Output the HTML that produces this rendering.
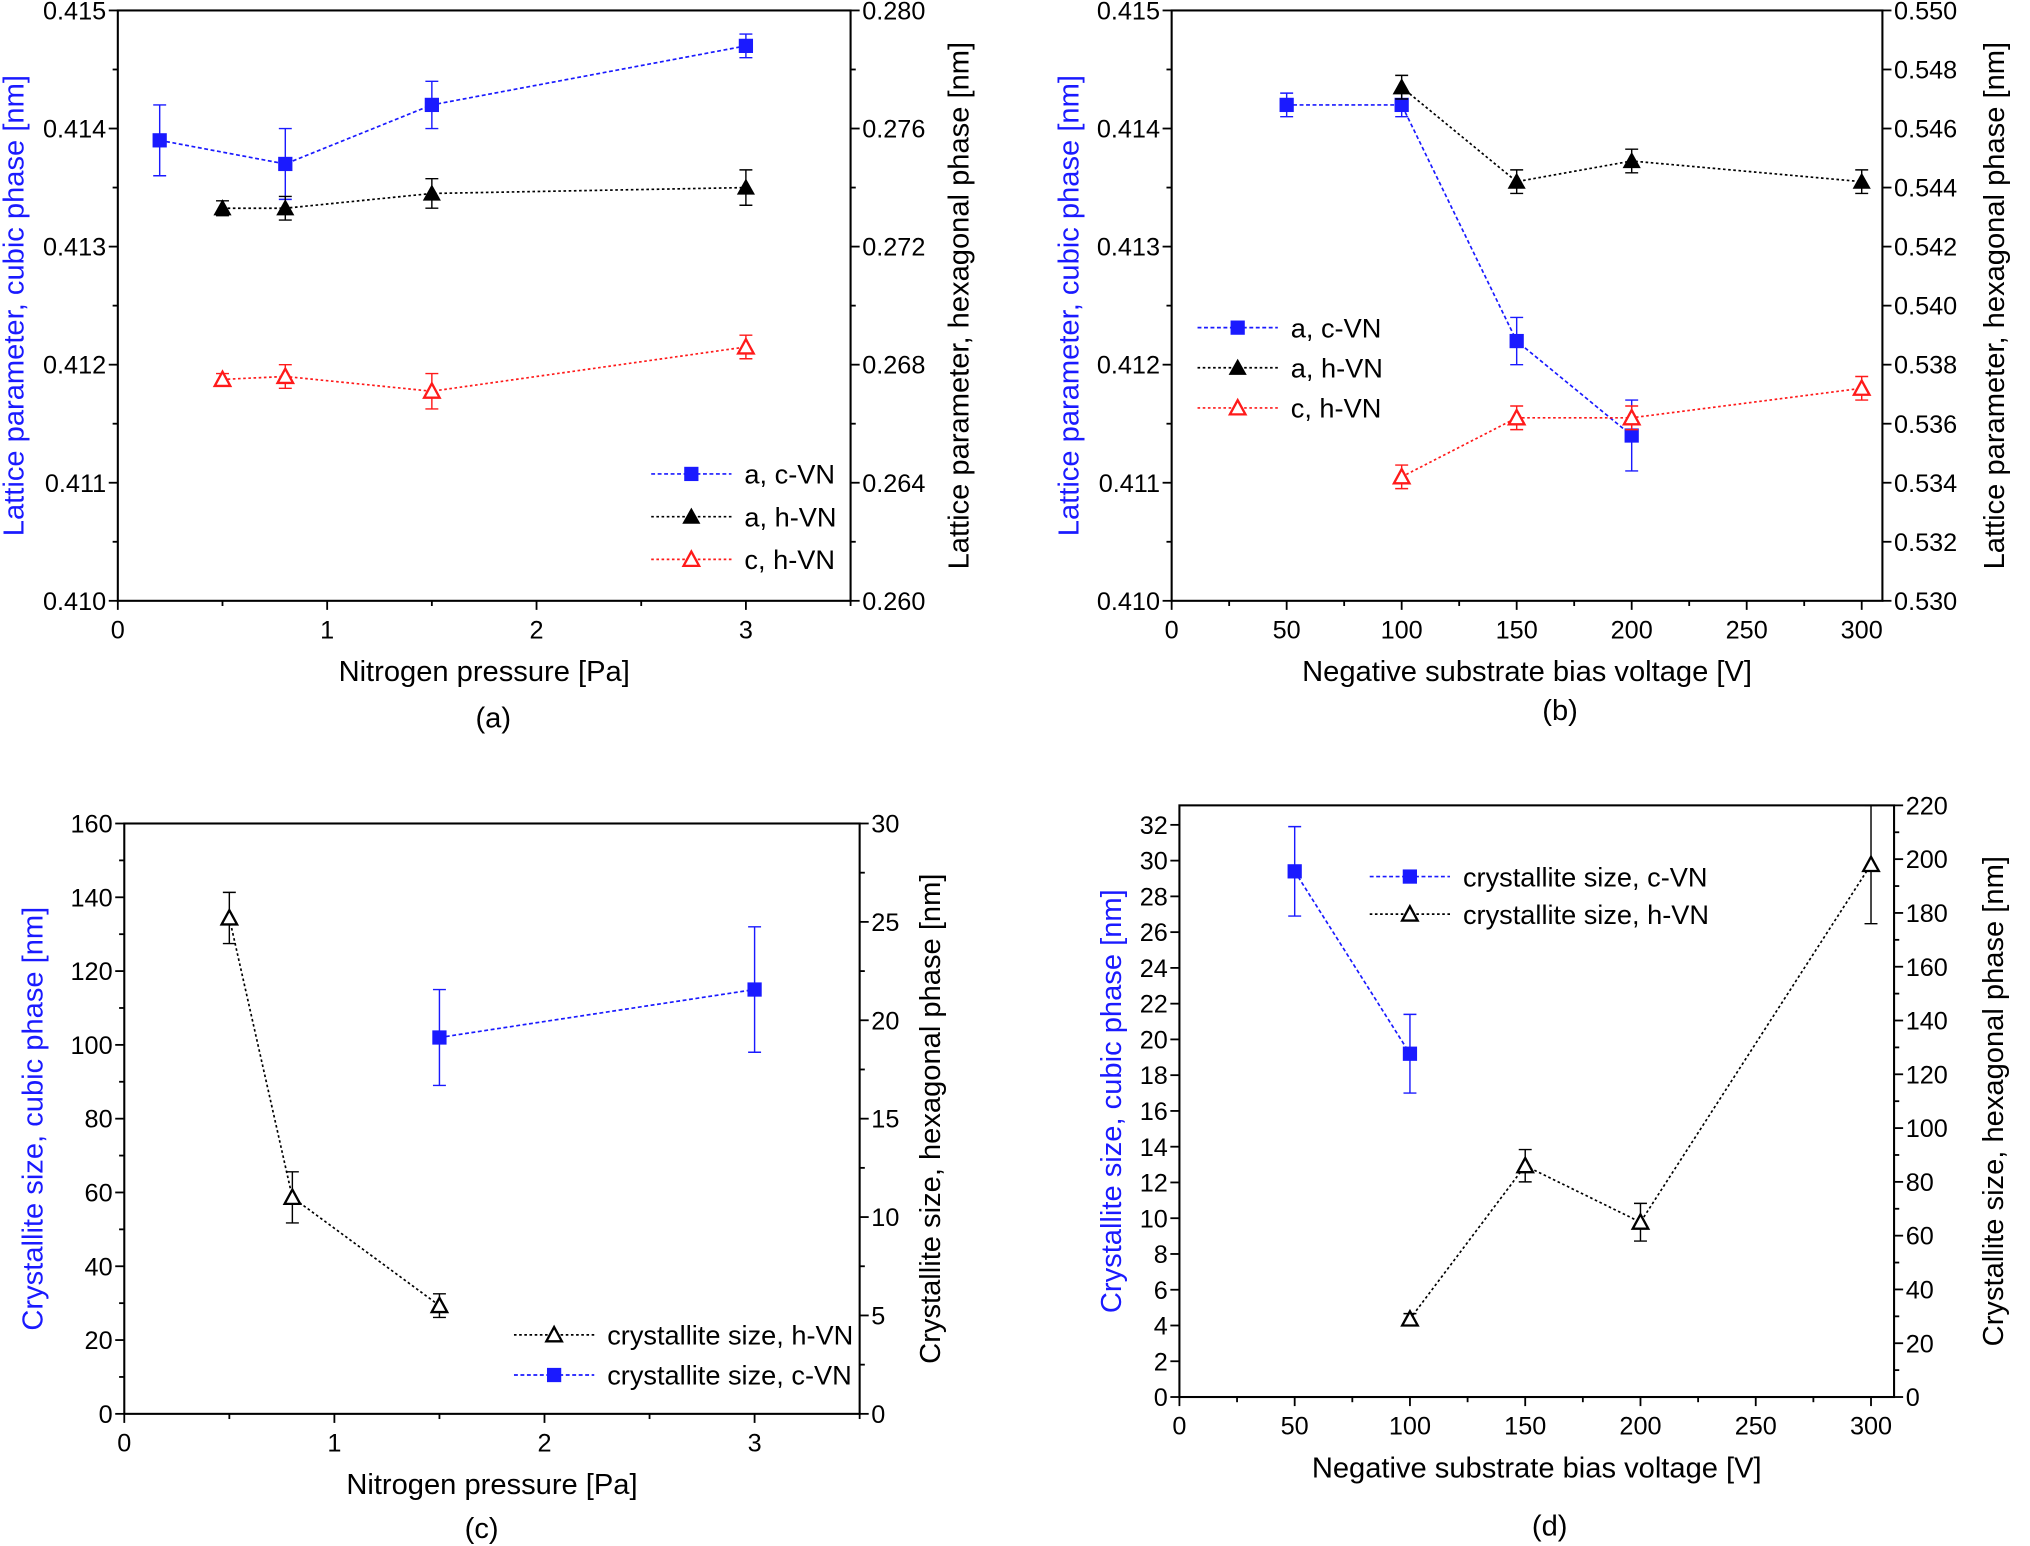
<!DOCTYPE html>
<html><head><meta charset="utf-8">
<style>
html,body{margin:0;padding:0;background:#fff;}
svg{display:block;font-family:"Liberation Sans",Arial,sans-serif;}
</style></head>
<body>
<svg id="fig" width="2030" height="1546" viewBox="0 0 1568 1194" xmlns="http://www.w3.org/2000/svg"></svg>
<script>
// ---- Panel (a) data ----
const aX_cVN = [0.2, 0.8, 1.5, 3];
const aY_cVN = [0.4139, 0.4137, 0.4142, 0.4147];
const aE_cVN = [0.0003, 0.0003, 0.0002, 0.0001];
const aX_ahVN = [0.5, 0.8, 1.5, 3];
const aY_ahVN = [0.2733, 0.2733, 0.2738, 0.2740];
const aE_ahVN = [0.00025, 0.0004, 0.0005, 0.0006];
const aX_chVN = [0.5, 0.8, 1.5, 3];
const aY_chVN = [0.2675, 0.2676, 0.2671, 0.2686];
const aE_chVN = [0.0002, 0.0004, 0.0006, 0.0004];
// ---- Panel (b) data ----
const bX_cVN = [50, 100, 150, 200];
const bY_cVN = [0.4142, 0.4142, 0.4122, 0.4114];
const bE_cVN = [0.0001, 0.0001, 0.0002, 0.0003];
const bX_ahVN = [100, 150, 200, 300];
const bY_ahVN = [0.5474, 0.5442, 0.5449, 0.5442];
const bE_ahVN = [0.0004, 0.0004, 0.0004, 0.0004];
const bX_chVN = [100, 150, 200, 300];
const bY_chVN = [0.5342, 0.5362, 0.5362, 0.5372];
const bE_chVN = [0.0004, 0.0004, 0.0004, 0.0004];
// ---- Panel (c) data ----
const cX_hVN = [0.5, 0.8, 1.5];
const cY_hVN = [25.2, 11.0, 5.5];
const cE_hVN = [1.3, 1.3, 0.6];
const cX_cVN = [1.5, 3];
const cY_cVN = [102, 115];
const cE_cVN = [13, 17];
// ---- Panel (d) data ----
const dX_cVN = [50, 100];
const dY_cVN = [29.4, 19.2];
const dE_cVN = [2.5, 2.2];
const dX_hVN = [100, 150, 200, 300];
const dY_hVN = [29, 86, 65, 198];
const dE_hVN = [2, 6, 7, 22];
// ---- ticks ----
const aXTicks = [0, 1, 2, 3];
const aLTicks = ["0.410","0.411","0.412","0.413","0.414","0.415"];
const aRTicks = ["0.260","0.264","0.268","0.272","0.276","0.280"];
const bXTicks = [0, 50, 100, 150, 200, 250, 300];
const bLTicks = ["0.410","0.411","0.412","0.413","0.414","0.415"];
const bRTicks = ["0.530","0.532","0.534","0.536","0.538","0.540","0.542","0.544","0.546","0.548","0.550"];
const cXTicks = [0, 1, 2, 3];
const cLTicks = ["0","20","40","60","80","100","120","140","160"];
const cRTicks = ["0","5","10","15","20","25","30"];
const dXTicks = [0, 50, 100, 150, 200, 250, 300];
const dLTicks = ["0","2","4","6","8","10","12","14","16","18","20","22","24","26","28","30","32"];
const dRTicks = ["0","20","40","60","80","100","120","140","160","180","200","220"];

const NS = "http://www.w3.org/2000/svg";
const svg = document.getElementById("fig");
const TF = 19.5, TT = 22.5, LF = 21;
function mk(tag, attrs, parent, text){
  const e = document.createElementNS(NS, tag);
  for (const k in attrs) e.setAttribute(k, attrs[k]);
  if (text !== undefined) e.textContent = text;
  (parent || svg).appendChild(e);
  return e;
}
const BLUE = "#1a1aff", RED = "#ff1a1a";

function panel(p){
  const g = mk("g", {});
  
  
  const sx = v => p.x0 + (v - p.xmin) / (p.xmax - p.xmin) * (p.x1 - p.x0);
  const syL = v => p.y1 - (v - p.lmin) / (p.lmax - p.lmin) * (p.y1 - p.y0);
  const syR = v => p.y1 - (v - p.rmin) / (p.rmax - p.rmin) * (p.y1 - p.y0);
  const box = mk("rect", {x:p.x0, y:p.y0, width:p.x1-p.x0, height:p.y1-p.y0, fill:"none", stroke:"#000", "stroke-width":1.6}, g);
  
  
  const xt = mk("g", {}, g);
  
  
  const xstep = p.xticks[1] - p.xticks[0];
  for (let v = p.xmin; v <= p.xmax + 1e-9; v += xstep/2){
    const X = sx(v);
    const major = p.xticks.some(t => Math.abs(t - v) < 1e-9);
    mk("line", {x1:X, x2:X, y1:p.y1, y2:p.y1 + (major?7:4), stroke:"#000", "stroke-width":1.4}, xt);
  }
  p.xticks.forEach(t => {
    const tl = mk("text", {x:sx(t), y:p.y1 + 29, "font-size":TF, "text-anchor":"middle"}, xt, String(t));
    
    
  });
  const lt = mk("g", {}, g);
  
  
  const ln = p.lticks.length;
  for (let i = 0; i < ln; i++){
    const v = parseFloat(p.lticks[i]);
    const Y = syL(v);
    mk("line", {x1:p.x0-7, x2:p.x0, y1:Y, y2:Y, stroke:"#000", "stroke-width":1.4}, lt);
    const tl = mk("text", {x:p.x0-9, y:Y+7, "font-size":TF, "text-anchor":"end"}, lt, p.lticks[i]);
    
    
    if (i < ln - 1 && p.lminor){
      const Ym = syL((v + parseFloat(p.lticks[i+1]))/2);
      mk("line", {x1:p.x0-4, x2:p.x0, y1:Ym, y2:Ym, stroke:"#000", "stroke-width":1.4}, lt);
    }
  }
  const rt = mk("g", {}, g);
  
  
  const rn = p.rticks.length;
  for (let i = 0; i < rn; i++){
    const v = parseFloat(p.rticks[i]);
    const Y = syR(v);
    mk("line", {x1:p.x1, x2:p.x1+7, y1:Y, y2:Y, stroke:"#000", "stroke-width":1.4}, rt);
    const tl = mk("text", {x:p.x1+9, y:Y+7, "font-size":TF, "text-anchor":"start"}, rt, p.rticks[i]);
    
    
    if (i < rn - 1 && p.rminor){
      const Ym = syR((v + parseFloat(p.rticks[i+1]))/2);
      mk("line", {x1:p.x1, x2:p.x1+4, y1:Ym, y2:Ym, stroke:"#000", "stroke-width":1.4}, rt);
    }
  }
  const xtit = mk("text", {x:(p.x0+p.x1)/2, y:p.y1+62, "font-size":TT, "text-anchor":"middle"}, g, p.xtitle);
  
  
  const lx = p.ltx, cy = (p.y0+p.y1)/2;
  const ltit = mk("text", {x:lx, y:cy, "font-size":TT, "text-anchor":"middle", fill:BLUE, transform:`rotate(-90 ${lx} ${cy})`}, g, p.ltitle);
  
  
  const rx = p.rtx;
  const rtit = mk("text", {x:rx, y:cy, "font-size":TT, "text-anchor":"middle", transform:`rotate(-90 ${rx} ${cy})`}, g, p.rtitle);
  
  
  const cap = mk("text", {x:p.capx, y:p.capy, "font-size":TT, "text-anchor":"middle"}, g, p.cap);
  
  
  p.series.forEach(s => {
    const sg = mk("g", {}, g);
    
    
    const sy = s.axis === "L" ? syL : syR;
    const pts = s.x.map((xv, i) => [sx(xv), sy(s.y[i])]);
    mk("polyline", {points: pts.map(q => q.join(",")).join(" "), fill:"none", stroke:s.color, "stroke-width":1.3, "stroke-dasharray":s.dash}, sg);
    s.x.forEach((xv, i) => {
      const X = sx(xv), Yt = sy(s.y[i] + s.e[i]), Yb = sy(s.y[i] - s.e[i]);
      const eb = mk("path", {d:`M${X},${Yt}V${Yb}M${X-5},${Yt}H${X+5}M${X-5},${Yb}H${X+5}`, stroke:s.color, "stroke-width":1.1, fill:"none"}, sg);
      
      
      const m = marker(s.marker, X, sy(s.y[i]), s.color, sg);
      
      
    });
  });
  const lg = mk("g", {}, g);
  
  
  p.legend.forEach((L, i) => {
    const s = p.series[L.idx];
    const Y = p.legY + i * p.legDy;
    const eg = mk("g", {}, lg);
    
    
    mk("line", {x1:p.legX, x2:p.legX+62, y1:Y, y2:Y, stroke:s.color, "stroke-width":1.3, "stroke-dasharray":s.dash}, eg);
    marker(s.marker, p.legX+31, Y, s.color, eg);
    mk("text", {x:p.legX+72, y:Y+7.5, "font-size":LF}, eg, L.label);
  });
}
function marker(type, X, Y, c, parent){
  if (type === "sq") return mk("rect", {x:X-5.5, y:Y-5.5, width:11, height:11, fill:c}, parent);
  if (type === "tri") return mk("path", {d:`M${X},${Y-7}L${X+7},${Y+5.5}L${X-7},${Y+5.5}Z`, fill:c}, parent);
  return mk("path", {d:`M${X},${Y-6}L${X+6},${Y+5}L${X-6},${Y+5}Z`, fill:"#fff", stroke:c, "stroke-width":1.8}, parent);
}

panel({name:"panel-a", x0:91, x1:657, y0:8, y1:464, xmin:0, xmax:3.5, lmin:0.410, lmax:0.415, rmin:0.260, rmax:0.280,
  xticks:aXTicks, lticks:aLTicks, rticks:aRTicks, lminor:true, rminor:true,
  xtitle:"Nitrogen pressure [Pa]", ltitle:"Lattice parameter, cubic phase [nm]", rtitle:"Lattice parameter, hexagonal phase [nm]",
  ltx:18, rtx:748, cap:"(a)", capx:381, capy:562,
  series:[
    {name:"series-a-c-VN", x:aX_cVN, y:aY_cVN, e:aE_cVN, axis:"L", color:BLUE, marker:"sq", dash:"3,2"},
    {name:"series-a-h-VN", x:aX_ahVN, y:aY_ahVN, e:aE_ahVN, axis:"R", color:"#000", marker:"tri", dash:"2,2"},
    {name:"series-c-h-VN", x:aX_chVN, y:aY_chVN, e:aE_chVN, axis:"R", color:RED, marker:"otri", dash:"2,2"}],
  legend:[{idx:0,label:"a, c-VN"},{idx:1,label:"a, h-VN"},{idx:2,label:"c, h-VN"}], legX:503, legY:366, legDy:33});

panel({name:"panel-b", x0:905, x1:1454, y0:8, y1:464, xmin:0, xmax:309, lmin:0.410, lmax:0.415, rmin:0.530, rmax:0.550,
  xticks:bXTicks, lticks:bLTicks, rticks:bRTicks, lminor:true, rminor:false,
  xtitle:"Negative substrate bias voltage [V]", ltitle:"Lattice parameter, cubic phase [nm]", rtitle:"Lattice parameter, hexagonal phase [nm]",
  ltx:833, rtx:1548, cap:"(b)", capx:1205, capy:556,
  series:[
    {name:"series-a-c-VN", x:bX_cVN, y:bY_cVN, e:bE_cVN, axis:"L", color:BLUE, marker:"sq", dash:"3,2"},
    {name:"series-a-h-VN", x:bX_ahVN, y:bY_ahVN, e:bE_ahVN, axis:"R", color:"#000", marker:"tri", dash:"2,2"},
    {name:"series-c-h-VN", x:bX_chVN, y:bY_chVN, e:bE_chVN, axis:"R", color:RED, marker:"otri", dash:"2,2"}],
  legend:[{idx:0,label:"a, c-VN"},{idx:1,label:"a, h-VN"},{idx:2,label:"c, h-VN"}], legX:925, legY:253, legDy:31});

panel({name:"panel-c", x0:96, x1:664, y0:636, y1:1092, xmin:0, xmax:3.5, lmin:0, lmax:160, rmin:0, rmax:30,
  xticks:cXTicks, lticks:cLTicks, rticks:cRTicks, lminor:true, rminor:true,
  xtitle:"Nitrogen pressure [Pa]", ltitle:"Crystallite size, cubic phase [nm]", rtitle:"Crystallite size, hexagonal phase [nm]",
  ltx:33, rtx:726, cap:"(c)", capx:372, capy:1188,
  series:[
    {name:"series-h-VN-size", x:cX_hVN, y:cY_hVN, e:cE_hVN, axis:"R", color:"#000", marker:"otri", dash:"2,2"},
    {name:"series-c-VN-size", x:cX_cVN, y:cY_cVN, e:cE_cVN, axis:"L", color:BLUE, marker:"sq", dash:"3,2"}],
  legend:[{idx:0,label:"crystallite size, h-VN"},{idx:1,label:"crystallite size, c-VN"}], legX:397, legY:1031, legDy:31});

panel({name:"panel-d", x0:911, x1:1463, y0:622, y1:1079, xmin:0, xmax:310, lmin:0, lmax:33.09, rmin:0, rmax:220,
  xticks:dXTicks, lticks:dLTicks, rticks:dRTicks, lminor:false, rminor:true,
  xtitle:"Negative substrate bias voltage [V]", ltitle:"Crystallite size, cubic phase [nm]", rtitle:"Crystallite size, hexagonal phase [nm]",
  ltx:866, rtx:1547, cap:"(d)", capx:1197, capy:1186,
  series:[
    {name:"series-c-VN-size", x:dX_cVN, y:dY_cVN, e:dE_cVN, axis:"L", color:BLUE, marker:"sq", dash:"3,2"},
    {name:"series-h-VN-size", x:dX_hVN, y:dY_hVN, e:dE_hVN, axis:"R", color:"#000", marker:"otri", dash:"2,2"}],
  legend:[{idx:0,label:"crystallite size, c-VN"},{idx:1,label:"crystallite size, h-VN"}], legX:1058, legY:677, legDy:29});
</script>
</body></html>
